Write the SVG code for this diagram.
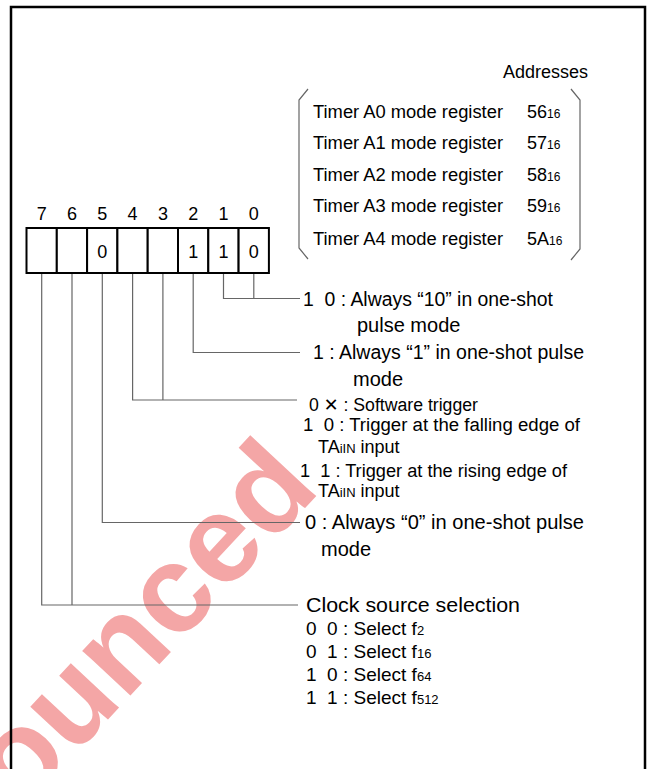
<svg xmlns="http://www.w3.org/2000/svg" width="647" height="769" viewBox="0 0 647 769">
<style>
text{font-family:"Liberation Sans",Arial,sans-serif;fill:#000;white-space:pre}
.t{font-size:18px}
.r{font-size:20px}
.c{font-size:18px}
.n{font-size:19px}
.s{font-size:12px}
.s2{font-size:13px}
.bit{font-size:18px;text-anchor:middle}
.wm{font-family:"Liberation Sans",Arial,sans-serif;font-weight:bold;font-size:124px;fill:#f4a6a6}
.cell{fill:#fff;stroke:#000;stroke-width:2}
.ln{fill:none;stroke:#666;stroke-width:1.2}
.frame{fill:none;stroke:#000;stroke-width:2.5}
</style>
<rect x="0" y="0" width="647" height="769" fill="#fff"/>
<text class="wm" transform="translate(322,490) rotate(-47)" text-anchor="end">ounced</text>
<rect class="frame" x="11" y="7" width="634" height="790"/>

<g id="addresses">
<text class="t" x="503" y="78">Addresses</text>
<path class="ln" d="M308,89 L299,100 L299,248 L308,259"/>
<path class="ln" d="M571,89 L580,100 L580,249 L571,260"/>
<text class="t" x="313" y="118" textLength="190" lengthAdjust="spacingAndGlyphs">Timer A0 mode register</text>
<text class="t" x="313" y="149" textLength="190" lengthAdjust="spacingAndGlyphs">Timer A1 mode register</text>
<text class="t" x="313" y="181" textLength="190" lengthAdjust="spacingAndGlyphs">Timer A2 mode register</text>
<text class="t" x="313" y="212" textLength="190" lengthAdjust="spacingAndGlyphs">Timer A3 mode register</text>
<text class="t" x="313" y="245" textLength="190" lengthAdjust="spacingAndGlyphs">Timer A4 mode register</text>
<text class="t" x="527" y="118">56<tspan class="s">16</tspan></text>
<text class="t" x="527" y="149">57<tspan class="s">16</tspan></text>
<text class="t" x="527" y="181">58<tspan class="s">16</tspan></text>
<text class="t" x="527" y="212">59<tspan class="s">16</tspan></text>
<text class="t" x="527" y="245">5A<tspan class="s">16</tspan></text>
</g>

<g id="register">
<text class="bit" x="41.7" y="220">7</text>
<text class="bit" x="72" y="220">6</text>
<text class="bit" x="102.3" y="220">5</text>
<text class="bit" x="132.6" y="220">4</text>
<text class="bit" x="162.9" y="220">3</text>
<text class="bit" x="193.2" y="220">2</text>
<text class="bit" x="223.5" y="220">1</text>
<text class="bit" x="253.8" y="220">0</text>
<rect class="cell" x="26.5" y="228" width="30.3" height="45"/>
<rect class="cell" x="56.8" y="228" width="30.3" height="45"/>
<rect class="cell" x="87.1" y="228" width="30.3" height="45"/>
<rect class="cell" x="117.4" y="228" width="30.3" height="45"/>
<rect class="cell" x="147.7" y="228" width="30.3" height="45"/>
<rect class="cell" x="178" y="228" width="30.3" height="45"/>
<rect class="cell" x="208.3" y="228" width="30.3" height="45"/>
<rect class="cell" x="238.6" y="228" width="30.3" height="45"/>
<text class="bit" x="102.3" y="258">0</text>
<text class="bit" x="193.2" y="258">1</text>
<text class="bit" x="223.5" y="258">1</text>
<text class="bit" x="253.8" y="258">0</text>
</g>

<g id="connectors">
<path class="ln" d="M223.5,274 V298.5 H300 M253.8,274 V298.5"/>
<path class="ln" d="M193.2,274 V352.5 H300"/>
<path class="ln" d="M132.6,274 V400 H297 M162.9,274 V400"/>
<path class="ln" d="M102.3,274 V522.5 H300"/>
<path class="ln" d="M41.7,274 V605 H298 M72,274 V605"/>
</g>

<g id="bits10">
<text class="r" x="303" y="306" textLength="250" lengthAdjust="spacingAndGlyphs" xml:space="preserve">1  0 : Always “10” in one-shot</text>
<text class="r" x="357" y="332">pulse mode</text>
</g>
<g id="bit2">
<text class="r" x="313" y="359" textLength="271" lengthAdjust="spacingAndGlyphs" xml:space="preserve">1 : Always “1” in one-shot pulse</text>
<text class="r" x="353" y="386">mode</text>
</g>
<g id="bits43">
<text class="c" x="309" y="411" textLength="169" lengthAdjust="spacingAndGlyphs" xml:space="preserve">0 <tspan font-family="DejaVu Sans" font-weight="bold">✕</tspan> : Software trigger</text>
<text class="c" x="303" y="431" textLength="277" lengthAdjust="spacingAndGlyphs" xml:space="preserve">1  0 : Trigger at the falling edge of</text>
<text class="c" x="318" y="453" xml:space="preserve">TA<tspan class="s2">iIN</tspan> input</text>
<text class="c" x="300" y="477" textLength="267" lengthAdjust="spacingAndGlyphs" xml:space="preserve">1  1 : Trigger at the rising edge of</text>
<text class="c" x="318" y="497" xml:space="preserve">TA<tspan class="s2">iIN</tspan> input</text>
</g>
<g id="bit5">
<text class="r" x="305" y="529" textLength="279" lengthAdjust="spacingAndGlyphs" xml:space="preserve">0 : Always “0” in one-shot pulse</text>
<text class="r" x="321" y="556">mode</text>
</g>
<g id="bits76">
<text class="r" x="306" y="612" textLength="214" lengthAdjust="spacingAndGlyphs">Clock source selection</text>
<text class="n" x="306" y="635" xml:space="preserve">0  0 : Select f<tspan class="s2">2</tspan></text>
<text class="n" x="306" y="658" xml:space="preserve">0  1 : Select f<tspan class="s2">16</tspan></text>
<text class="n" x="306" y="681" xml:space="preserve">1  0 : Select f<tspan class="s2">64</tspan></text>
<text class="n" x="306" y="704" xml:space="preserve">1  1 : Select f<tspan class="s2">512</tspan></text>
</g>
</svg>
